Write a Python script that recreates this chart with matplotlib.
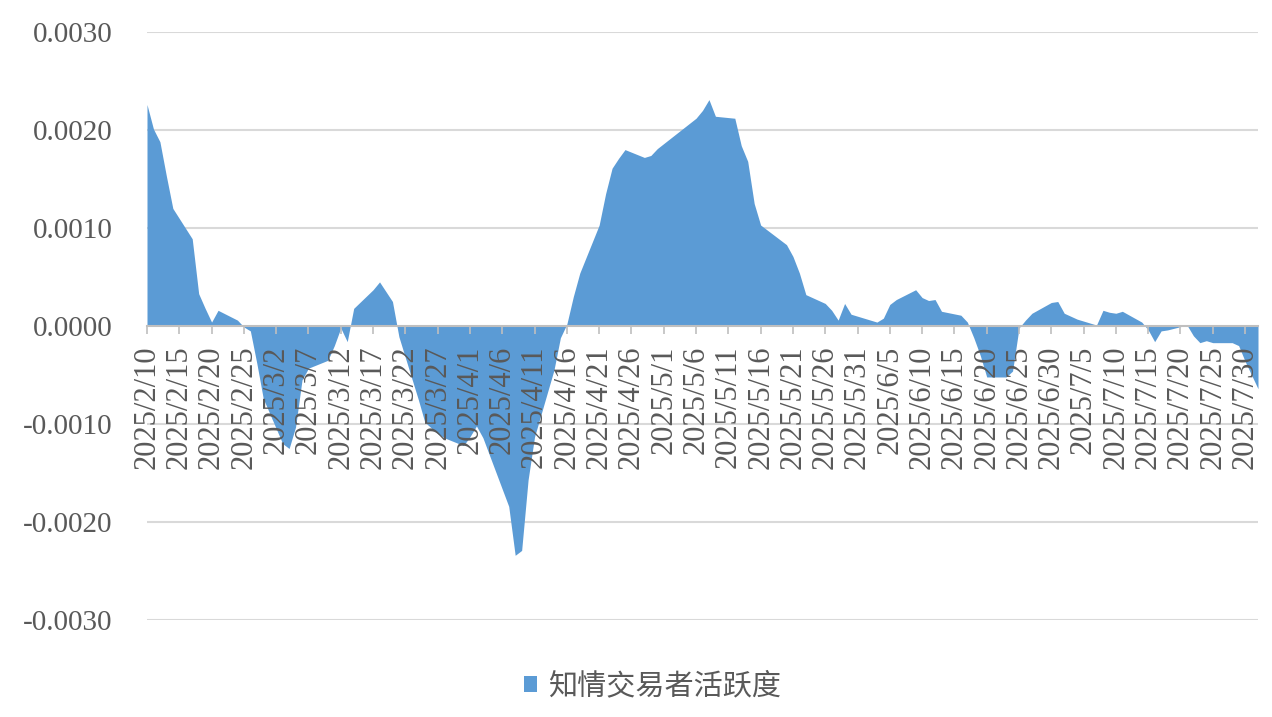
import numpy as np
import pandas as pd
import matplotlib
matplotlib.use("Agg")
import matplotlib.pyplot as plt
from matplotlib.patches import Patch

# trading days (2025) and the series
dates = [
    "2/10", "2/11", "2/12", "2/13", "2/14", "2/17", "2/18", "2/19", "2/20", "2/21",
    "2/24", "2/25", "2/26", "2/27", "2/28", "3/3", "3/4", "3/5", "3/6", "3/7",
    "3/10", "3/11", "3/12", "3/13", "3/14", "3/17", "3/18", "3/19", "3/20", "3/21",
    "3/24", "3/25", "3/26", "3/27", "3/28", "3/31", "4/1", "4/2", "4/3", "4/7",
    "4/8", "4/9", "4/10", "4/11", "4/14", "4/15", "4/16", "4/17", "4/18", "4/21",
    "4/22", "4/23", "4/24", "4/25", "4/28", "4/29", "4/30", "5/6", "5/7", "5/8",
    "5/9", "5/12", "5/13", "5/14", "5/15", "5/16", "5/19", "5/20", "5/21", "5/22",
    "5/23", "5/26", "5/27", "5/28", "5/29", "5/30", "6/3", "6/4", "6/5", "6/6",
    "6/9", "6/10", "6/11", "6/12", "6/13", "6/16", "6/17", "6/18", "6/19", "6/20",
    "6/23", "6/24", "6/25", "6/26", "6/27", "6/30", "7/1", "7/2", "7/3", "7/4",
    "7/7", "7/8", "7/9", "7/10", "7/11", "7/14", "7/15", "7/16", "7/17", "7/18",
    "7/21", "7/22", "7/23", "7/24", "7/25", "7/28", "7/29", "7/30", "7/31", "8/1",
]
activity = [
    0.00226, 0.00201, 0.00188, 0.00153, 0.00120, 0.00089, 0.00033, 0.00018, 0.00004, 0.00016,
    0.00006, -0.00001, -0.00005, -0.00038, -0.00074, -0.00120, -0.00125, -0.00103, -0.00055, -0.00043,
    -0.00035, -0.00020, -0.00002, -0.00016, 0.00018, 0.00037, 0.00045, 0.00035, 0.00025, -0.00011,
    -0.00075, -0.00098, -0.00104, -0.00110, -0.00114, -0.00122, -0.00113, -0.00102, -0.00114, -0.00184,
    -0.00234, -0.00229, -0.00157, -0.00113, -0.00045, -0.00012, 0.00002, 0.00030, 0.00054, 0.00103,
    0.00135, 0.00161, 0.00171, 0.00180, 0.00172, 0.00174, 0.00181, 0.00212, 0.00220, 0.00231,
    0.00214, 0.00212, 0.00184, 0.00168, 0.00125, 0.00103, 0.00088, 0.00083, 0.00071, 0.00054,
    0.00032, 0.00023, 0.00016, 0.00006, 0.00023, 0.00012, 0.00004, 0.00008, 0.00022, 0.00027,
    0.00037, 0.00029, 0.00026, 0.00027, 0.00015, 0.00011, 0.00004, -0.00012, -0.00030, -0.00052,
    -0.00052, -0.00046, -0.00002, 0.00006, 0.00013, 0.00024, 0.00025, 0.00013, 0.00010, 0.00007,
    0.00001, 0.00016, 0.00014, 0.00013, 0.00015, 0.00004, -0.00004, -0.00016, -0.00005, -0.00004,
    0.00001, -0.00010, -0.00017, -0.00015, -0.00017, -0.00017, -0.00020, -0.00036, -0.00050, -0.00064,
]
y_ticks = [0.003, 0.002, 0.001, 0.0, -0.001, -0.002, -0.003]
legend_label = "知情交易者活跃度"

x = pd.to_datetime(["2025/" + d for d in dates], format="%Y/%m/%d")
y = np.array(activity)

grey_text = "#595959"
grid_col = "#d9d9d9"
blue = "#5b9bd5"

fig = plt.figure(figsize=(12.72, 7.17), dpi=100)
ax = fig.add_axes([147 / 1272, 1 - 620 / 717, (1258 - 147) / 1272, (620 - 32) / 717])
ax.set_axisbelow(False)  # tick labels go on top of the area, like the original

# x axis sits on the zero line (set before the tick styling, it resets ticks)
for s in ["left", "right", "top"]:
    ax.spines[s].set_visible(False)
ax.spines["bottom"].set_position(("data", 0))
ax.spines["bottom"].set_color("#bfbfbf")
ax.spines["bottom"].set_linewidth(1.5)

ax.fill_between(x, y, 0, color=blue, linewidth=0, zorder=1)

ax.set_ylim(-0.003, 0.003)
ax.set_xlim(x[0], x[-1])
ax.set_yticks(y_ticks)
ax.set_yticklabels([f"{v:.4f}" for v in y_ticks], fontfamily="Liberation Serif",
                   fontsize=21, color=grey_text)
ax.tick_params(axis="y", length=0, pad=25)
for v in y_ticks:
    if v != 0:
        ax.axhline(v, color=grid_col, linewidth=1.5, zorder=0.5)

xt = pd.date_range("2025-02-10", "2025-07-30", freq="5D")
ax.set_xticks(xt)
ax.set_xticklabels([f"{d.year}/{d.month}/{d.day}" for d in xt], rotation=90,
                   fontfamily="Liberation Serif", fontsize=22, color=grey_text)
ax.tick_params(axis="x", direction="out", length=6, width=1.2, color="#bfbfbf", pad=8)

handle = Patch(facecolor=blue, edgecolor="none", label=legend_label)
fig.legend(handles=[handle], loc="center", bbox_to_anchor=(0.513, 0.043), frameon=False,
           prop={"family": ["Noto Sans CJK SC", "DejaVu Sans"], "size": 21},
           labelcolor=grey_text, handlelength=0.45, handleheight=0.45, handletextpad=0.35)

fig.savefig("out.png", dpi=100)
